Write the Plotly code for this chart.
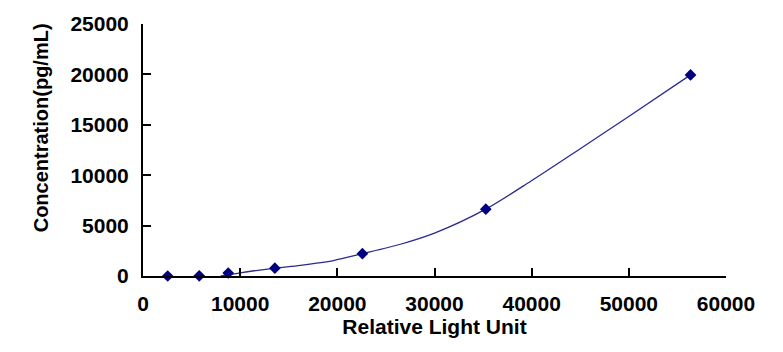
import plotly.graph_objects as go

# Standard points (Relative Light Unit vs Concentration)
rlu = [2540, 5790, 8770, 13570, 22580, 35280, 56350]
conc = [0, 20, 300, 780, 2210, 6630, 19950]

# Fitted curve
curve_x = [8000, 9000, 10000, 13570, 16200, 19600, 22580, 26500,
           30000, 35280, 39900, 45000, 49800, 56350]
curve_y = [0, 150, 320, 780, 1060, 1530, 2210, 3150,
           4250, 6630, 9400, 12630, 15700, 19950]

x_ticks = [0, 10000, 20000, 30000, 40000, 50000, 60000]
y_ticks = [0, 5000, 10000, 15000, 20000, 25000]

FONT = "Arial, Liberation Sans, sans-serif"

fig = go.Figure()
fig.add_trace(go.Scatter(
    x=curve_x, y=curve_y, mode="lines",
    line=dict(color="#2a2a90", width=1.3, shape="spline", smoothing=0.8),
    hoverinfo="skip", showlegend=False, cliponaxis=False))
fig.add_trace(go.Scatter(
    x=rlu, y=conc, mode="markers",
    marker=dict(symbol="diamond", size=9, color="#000080"),
    showlegend=False, cliponaxis=False))

axis_common = dict(
    showgrid=False, zeroline=False, showline=True, linecolor="black", linewidth=2,
    ticks="inside", ticklen=8, tickwidth=2, tickcolor="black",
    tickfont=dict(family=FONT, size=21, color="black", weight="bold"),
)

fig.update_xaxes(range=[0, 60000], tickvals=x_ticks,
                 ticktext=[str(v) for v in x_ticks], ticklabelstandoff=8,
                 title=dict(text="Relative Light Unit",
                            font=dict(family=FONT, size=21, color="black", weight="bold"),
                            standoff=4),
                 **axis_common)
fig.update_yaxes(range=[0, 25000], tickvals=y_ticks,
                 ticktext=[str(v) for v in y_ticks], ticklabelstandoff=8,
                 **axis_common)

fig.add_annotation(text="Concentration(pg/mL)", textangle=-90,
                   xref="paper", yref="paper", x=-0.175, y=0.59,
                   xanchor="center", yanchor="middle", showarrow=False,
                   font=dict(family=FONT, size=20, color="black", weight="bold"))

fig.update_layout(
    width=783, height=352,
    margin=dict(l=143, r=57, t=19, b=76),
    paper_bgcolor="white", plot_bgcolor="white",
)

fig.write_html("out.html")
